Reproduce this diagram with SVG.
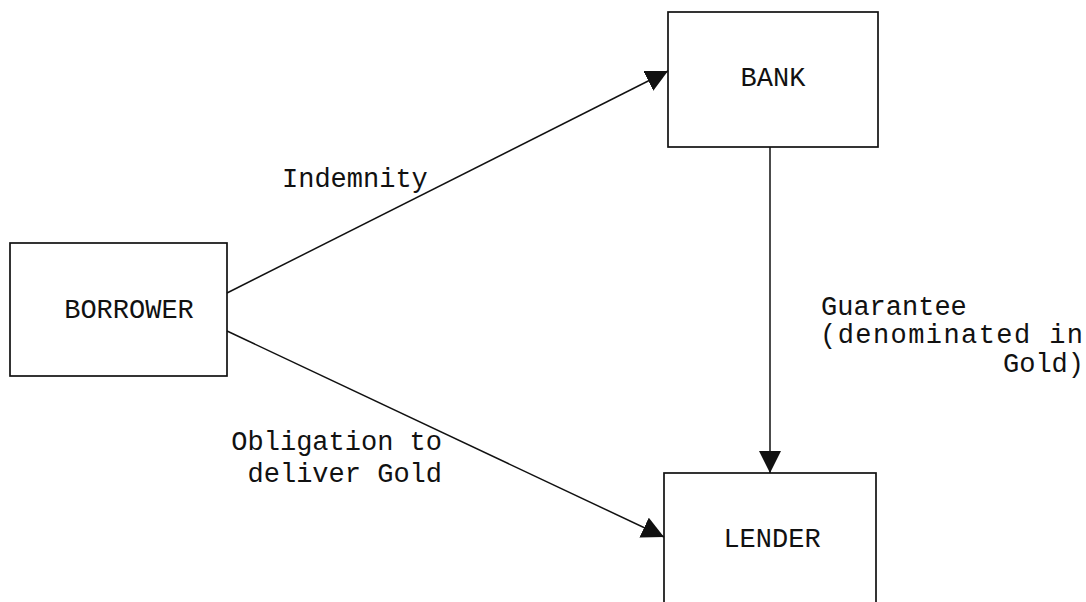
<svg xmlns="http://www.w3.org/2000/svg" width="1086" height="602" viewBox="0 0 1086 602">
<style>
.box{fill:#fff;stroke:#111;stroke-width:1.7}
.t{font-family:"Liberation Mono","DejaVu Sans Mono",monospace;font-size:27px;fill:#111}
.c{stroke:#111;stroke-width:1.5;fill:none}
</style>
<defs>
<marker id="ah" viewBox="0 0 10 10" refX="10" refY="5" markerWidth="22" markerHeight="22" markerUnits="userSpaceOnUse" orient="auto">
<path d="M0,0 L10,5 L0,10 Z" fill="#111"/>
</marker>
</defs>
<rect width="1086" height="602" fill="#fff"/>
<g id="borrower">
<rect class="box" x="10" y="243" width="217" height="133"/>
<text class="t" x="129" y="318" text-anchor="middle">BORROWER</text>
</g>
<g id="bank">
<rect class="box" x="668" y="12" width="210" height="135"/>
<text class="t" x="773" y="86" text-anchor="middle">BANK</text>
</g>
<g id="lender">
<rect class="box" x="664" y="473" width="212" height="140"/>
<text class="t" x="772" y="547" text-anchor="middle">LENDER</text>
</g>
<g id="connectors">
<line class="c" x1="227" y1="293" x2="668" y2="71" marker-end="url(#ah)"/>
<line class="c" x1="227" y1="331" x2="664" y2="537" marker-end="url(#ah)"/>
<line class="c" x1="770" y1="147" x2="770" y2="473" marker-end="url(#ah)"/>
</g>
<g id="labels">
<text class="t" x="282" y="187">Indemnity</text>
<text class="t" x="442" y="450" text-anchor="end">Obligation to</text>
<text class="t" x="442" y="482" text-anchor="end">deliver Gold</text>
<text class="t" x="821" y="315">Guarantee</text>
<text class="t" x="820" y="343" textLength="263" lengthAdjust="spacing">(denominated in</text>
<text class="t" x="1084" y="372" text-anchor="end">Gold)</text>
</g>
</svg>
